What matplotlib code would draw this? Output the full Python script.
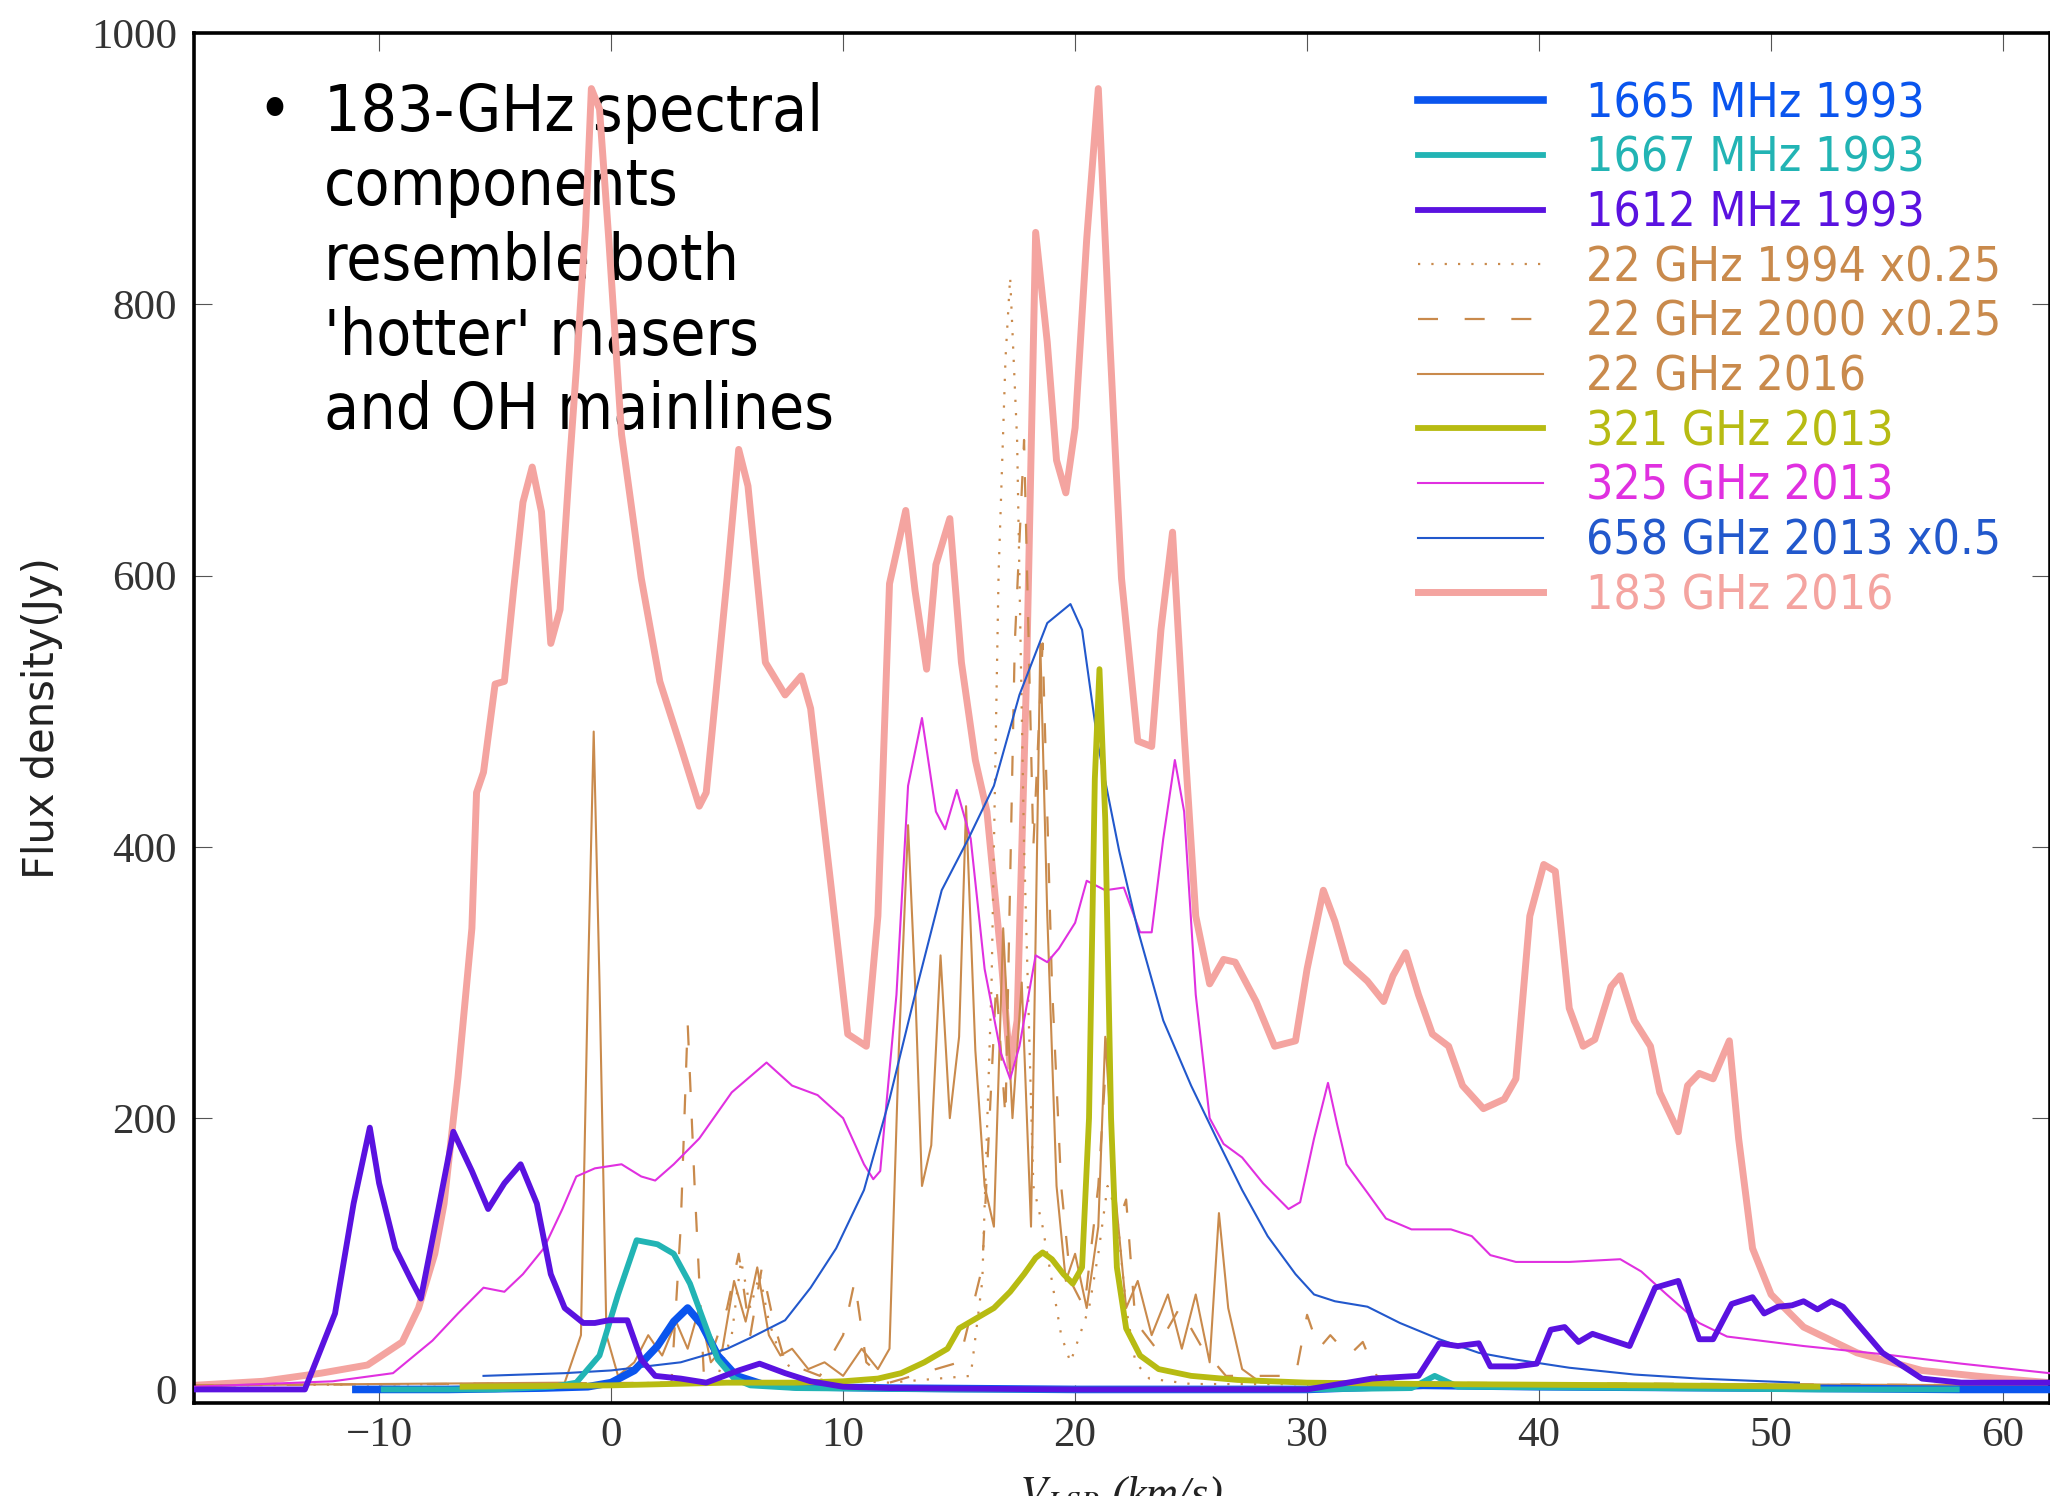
import matplotlib
matplotlib.use("Agg")
import matplotlib.pyplot as plt
from matplotlib.font_manager import FontProperties

plt.rcParams['mathtext.fontset'] = 'stix'

# ---------------------------------------------------------------- spectra
# velocity (km/s) and flux density (Jy) for each spectrum

v_1665 = [-11, -7, -3, -1, 0, 1, 2, 2.7, 3.3, 3.9, 4.6, 5.4, 6.5, 8, 12, 20, 30, 35, 40, 50, 58, 62]
f_1665 = [0, 0, 1, 2, 5, 14, 32, 50, 60, 48, 25, 10, 4, 2, 1, 0, 0, 3, 2, 1, 0, 0]

v_1667 = [-9.8, -5, -2.5, -1.5, -0.5, 0.3, 1.1, 2.0, 2.7, 3.4, 4.0, 4.6, 5.3, 6.0, 8, 15, 30,
          34.5, 35.5, 36.5, 45, 52, 58]
f_1667 = [0, 0, 2, 5, 25, 70, 110, 107, 100, 78, 50, 22, 8, 3, 1, 0, 0,
          1, 10, 2, 1, 0, 0]

v_1612 = [-18, -13.2, -11.9, -11.1, -10.4, -10.0, -9.3, -8.6, -8.2, -7.4, -6.8, -6.0, -5.3,
          -4.6, -3.9, -3.2, -2.6, -2.0, -1.2, -0.7, -0.1, 0.7, 1.3, 1.9, 3.0, 4.1, 5.5, 6.4,
          7.5, 8.6, 10, 12, 20, 30, 32.8, 34.8, 35.7, 36.5, 37.4, 37.9, 39.0, 39.9, 40.5,
          41.1, 41.7, 42.3, 43.0, 43.9, 45.0, 46.0, 46.9, 47.5, 48.3, 49.2, 49.7, 50.3,
          50.9, 51.4, 52.0, 52.6, 53.1, 54.8, 56.5, 58.2, 62]
f_1612 = [0, 0, 56, 137, 193, 152, 104, 80, 67, 137, 190, 161, 133,
          152, 166, 137, 85, 60, 49, 49, 51, 51, 22, 10, 8, 5, 14, 19,
          12, 6, 2, 1, 0, 0, 8, 10, 34, 32, 34, 17, 17, 19, 44,
          46, 35, 41, 37, 32, 75, 80, 37, 37, 63, 68, 56, 61,
          62, 65, 59, 65, 61, 27, 8, 5, 5]

v_22_1994 = [-18, 4.5, 5.2, 5.6, 6.0, 6.4, 6.8, 7.2, 8, 12, 15.5, 16.0, 16.4, 16.7, 17.0,
             17.2, 17.5, 17.8, 18.2, 18.6, 19.0, 19.4, 19.8, 20.2, 20.6, 21.0, 21.4, 21.8,
             22.2, 22.6, 23.2, 25, 62]
f_22_1994 = [3, 5, 40, 95, 60, 85, 50, 30, 8, 5, 10, 80, 300, 600, 760,
             820, 700, 400, 150, 120, 80, 40, 20, 40, 60, 100, 150, 130,
             60, 20, 8, 4, 3]

v_22_2000 = [-18, 2.6, 3.0, 3.3, 3.6, 4.0, 5.0, 5.5, 6.0, 6.5, 7.0, 7.5, 9, 10.0, 10.5, 11.0,
             12, 15, 16.0, 16.6, 17.0, 17.4, 17.8, 18.2, 18.6, 19.0, 19.4, 19.8, 20.4, 21.0,
             21.4, 21.8, 22.2, 22.6, 23.5, 24.5, 25.5, 26.5, 29.5, 30.0, 30.5, 31.0, 31.8,
             32.4, 33.0, 34, 62]
f_22_2000 = [3, 5, 120, 270, 150, 10, 60, 100, 40, 90, 50, 20, 10, 40, 80, 20,
             5, 20, 90, 300, 200, 550, 700, 400, 550, 300, 150, 80, 60, 150,
             260, 120, 140, 50, 30, 60, 30, 10, 10, 55, 30, 40, 25,
             35, 10, 5, 3]

v_22_2016 = [-18, -2, -1.3, -1.0, -0.75, -0.5, -0.2, 0.3, 1.0, 1.6, 2.2, 2.8, 3.3, 3.8, 4.3,
             4.8, 5.3, 5.8, 6.3, 6.8, 7.3, 7.8, 8.5, 9.2, 10.0, 10.8, 11.5, 12.0, 12.4, 12.8,
             13.1, 13.4, 13.8, 14.2, 14.6, 15.0, 15.3, 15.7, 16.1, 16.5, 16.9, 17.3, 17.7,
             18.1, 18.5, 18.8, 19.2, 19.6, 20.0, 20.5, 21.0, 21.3, 21.7, 22.2, 22.7, 23.3,
             24.0, 24.6, 25.2, 25.8, 26.2, 26.6, 27.2, 28, 62]
f_22_2016 = [3, 5, 40, 300, 485, 300, 40, 10, 20, 40, 25, 50, 30, 60, 20,
             30, 80, 50, 90, 40, 25, 30, 15, 20, 10, 30, 15, 30, 250, 416,
             300, 150, 180, 320, 200, 260, 430, 250, 150, 120, 340, 200, 300,
             120, 550, 350, 150, 80, 100, 60, 120, 260, 150, 60, 80, 40,
             70, 30, 70, 20, 130, 60, 15, 5, 3]

v_321 = [-6.4, 0, 5, 8, 10, 11.5, 12.5, 13.5, 14.5, 15.0, 15.7, 16.5, 17.2, 17.8, 18.3, 18.6,
         19.0, 19.5, 19.9, 20.3, 20.6, 20.85, 21.05, 21.3, 21.55, 21.8, 22.2, 22.8, 23.6, 25,
         27, 30, 35, 45, 52]
f_321 = [2, 3, 5, 5, 6, 8, 12, 20, 30, 45, 52, 60, 72, 85, 97, 101,
         96, 85, 78, 90, 200, 450, 531, 420, 200, 90, 45, 25, 15, 10,
         7, 5, 4, 3, 2]

v_325 = [-18, -12, -9.4, -7.7, -6.6, -5.5, -4.6, -3.8, -2.9, -2.1, -1.5, -0.7, 0.45, 1.3, 1.9,
         2.7, 3.8, 5.2, 6.7, 7.8, 8.9, 10.0, 10.9, 11.3, 11.6, 12.3, 12.8, 13.4, 14.0, 14.4,
         14.9, 15.5, 16.1, 16.8, 17.2, 17.6, 18.3, 18.8, 19.3, 20.0, 20.5, 21.3, 22.1, 22.8,
         23.3, 23.8, 24.3, 24.7, 25.2, 25.8, 26.4, 27.2, 28.1, 29.2, 29.7, 30.3, 30.9, 31.3,
         31.7, 32.6, 33.4, 34.5, 36.2, 37.1, 37.9, 39.0, 41.3, 43.5, 44.4, 45.5, 46.9, 48.1,
         51.4, 54.8, 58.2, 62]
f_325 = [2, 6, 12, 36, 56, 75, 72, 85, 104, 133, 157, 163, 166, 157, 154,
         166, 185, 219, 241, 224, 217, 200, 166, 155, 161, 291, 445, 495, 426, 413,
         442, 406, 310, 248, 229, 253, 320, 315, 325, 344, 375, 368, 370, 337,
         337, 406, 464, 426, 291, 200, 181, 171, 152, 133, 138, 185, 226, 195,
         166, 145, 126, 118, 118, 113, 99, 94, 94, 96, 87, 70, 49, 39,
         32, 26, 19, 12]

v_658 = [-5.5, -2, 0, 3, 5, 6, 7.5, 8.6, 9.7, 10.9, 12.0, 13.1, 14.25, 15.4, 16.5, 17.6, 18.8,
         19.8, 20.3, 21.0, 21.9, 22.7, 23.8, 25.0, 26.1, 27.2, 28.3, 29.5, 30.3, 31.2, 32.6,
         34.0, 35.7, 37.4, 39.0, 41.3, 44.1, 46.9, 49.7, 51.2]
f_658 = [10, 12, 14, 20, 30, 38, 51, 75, 104, 147, 214, 291, 368, 406, 445, 512, 565,
         579, 560, 474, 397, 339, 272, 224, 185, 147, 113, 85, 70, 65, 61,
         49, 37, 27, 22, 16, 11, 8, 6, 5]

v_183 = [-18, -15, -12.5, -10.5, -9, -8.3, -7.6, -7.2, -6.6, -6.0, -5.8, -5.5, -5.0, -4.6, -4.2,
         -3.8, -3.4, -3.0, -2.6, -2.2, -1.8, -1.5, -1.1, -0.85, -0.5, -0.1, 0.45, 1.3, 2.1,
         3.0, 3.8, 4.1, 5.0, 5.5, 5.9, 6.65, 7.5, 8.2, 8.6, 9.5, 10.2, 11.0, 11.5, 12.0, 12.7,
         13.1, 13.6, 14.0, 14.6, 15.1, 15.7, 16.2, 16.8, 17.2, 17.5, 17.9, 18.3, 18.8, 19.2,
         19.6, 20.0, 20.5, 21.0, 21.5, 22.0, 22.7, 23.3, 23.7, 24.2, 24.7, 25.2, 25.8, 26.4,
         26.9, 27.8, 28.6, 29.5, 30.0, 30.7, 31.2, 31.7, 32.6, 33.3, 33.7, 34.25, 34.8, 35.4,
         36.1, 36.7, 37.6, 38.5, 39.0, 39.6, 40.2, 40.7, 41.3, 41.9, 42.4, 43.1, 43.5, 44.1,
         44.8, 45.2, 46.0, 46.4, 46.9, 47.5, 48.2, 48.6, 49.2, 50.0, 51.4, 53.7, 56.5, 59.9, 62]
f_183 = [3, 6, 12, 18, 35, 60, 100, 137, 230, 340, 440, 455, 520, 522, 590,
         654, 680, 647, 550, 575, 680, 752, 858, 959, 944, 848, 704, 598, 522,
         474, 430, 440, 598, 693, 666, 536, 512, 526, 502, 368, 262, 253, 349, 594, 648,
         589, 531, 608, 642, 536, 464, 426, 320, 238, 272, 522, 853, 772, 685,
         661, 709, 848, 959, 772, 598, 478, 474, 560, 632, 483, 349, 299, 317,
         315, 286, 253, 257, 310, 368, 345, 315, 301, 286, 305, 322, 291, 262,
         253, 224, 207, 214, 229, 349, 387, 382, 281, 253, 258, 297, 305, 272,
         253, 219, 190, 224, 233, 229, 257, 185, 104, 70, 46, 27, 14, 8, 5]

x_ticks = [-10, 0, 10, 20, 30, 40, 50, 60]
y_ticks = [0, 200, 400, 600, 800, 1000]

bullet_lines = ["183-GHz spectral", "components", "resemble both",
                "'hotter' masers", "and OH mainlines"]

# ---------------------------------------------------------------- figure
W, H = 2050, 1496
fig = plt.figure(figsize=(W / 100, H / 100), dpi=100)
left, right, top, bottom = 193.5, 2049.5, 33, 1403
ax = fig.add_axes([left / W, 1 - bottom / H, (right - left) / W, (bottom - top) / H])

c_1665 = '#0a55ee'
c_1667 = '#22b4b4'
c_1612 = '#5a12e0'
c_22 = '#c98a4c'
c_321 = '#b7bb12'
c_325 = '#e030e0'
c_658 = '#2258cc'
c_183 = '#f4a4a0'

lines = []
lines.append(ax.plot(v_1665, f_1665, color=c_1665, lw=5.5, zorder=5,
                     label='1665 MHz 1993')[0])
lines.append(ax.plot(v_1667, f_1667, color=c_1667, lw=4.2, zorder=6,
                     label='1667 MHz 1993')[0])
lines.append(ax.plot(v_1612, f_1612, color=c_1612, lw=4.2, zorder=8,
                     label='1612 MHz 1993')[0])
lines.append(ax.plot(v_22_1994, f_22_1994, color=c_22, lw=1.6, ls=(0, (1, 5)), zorder=2,
                     label='22 GHz 1994 x0.25')[0])
lines.append(ax.plot(v_22_2000, f_22_2000, color=c_22, lw=1.6, ls=(0, (9, 12)), zorder=2,
                     label='22 GHz 2000 x0.25')[0])
lines.append(ax.plot(v_22_2016, f_22_2016, color=c_22, lw=1.5, zorder=2,
                     label='22 GHz 2016')[0])
lines.append(ax.plot(v_321, f_321, color=c_321, lw=4.2, zorder=7,
                     label='321 GHz 2013')[0])
lines.append(ax.plot(v_325, f_325, color=c_325, lw=1.5, zorder=3,
                     label='325 GHz 2013')[0])
lines.append(ax.plot(v_658, f_658, color=c_658, lw=1.5, zorder=4,
                     label='658 GHz 2013 x0.5')[0])
lines.append(ax.plot(v_183, f_183, color=c_183, lw=5, zorder=1,
                     label='183 GHz 2016')[0])

ax.set_xlim(-18, 62)
ax.set_ylim(-10, 1000)
ax.set_xticks(x_ticks)
ax.set_yticks(y_ticks)
ax.set_xticklabels([str(t).replace('-', '\u2212') for t in x_ticks])
ax.set_yticklabels([str(t) for t in y_ticks])

for s in ax.spines.values():
    s.set_linewidth(2.6)
    s.set_color('black')

tick_font = FontProperties(family='Liberation Serif', size=31)
ax.tick_params(which='both', direction='in', length=13, width=0.8, color='#555555',
               top=True, right=True, labelcolor='#333333')
ax.tick_params(axis='x', pad=10)
ax.tick_params(axis='y', pad=12)
for lab in ax.get_xticklabels() + ax.get_yticklabels():
    lab.set_fontproperties(tick_font)

ax.set_xlabel(r'$V_{LSR}$ (km/s)', fontfamily='Liberation Serif', fontstyle='italic',
              fontsize=32, color='#222222', va='top')
ax.xaxis.set_label_coords(0.5, -(1474 - bottom) / (bottom - top))
ax.set_ylabel('Flux density(Jy)', fontfamily='DejaVu Sans', fontsize=30, color='#222222')
ax.yaxis.set_label_coords(-(left - 63) / (right - left), 0.5)

# legend in the upper right, labels coloured like their lines
leg_font = FontProperties(family='DejaVu Sans', stretch='condensed', size=34.5)
leg = ax.legend(handles=lines, loc='upper left',
                bbox_to_anchor=((1418 - left) / (right - left), 1 - (80 - top) / (bottom - top)),
                prop=leg_font, frameon=False, handlelength=2.61, handletextpad=0.9,
                labelspacing=0.16, borderpad=0, borderaxespad=0)
for txt, ln in zip(leg.get_texts(), leg.get_lines()):
    txt.set_color(ln.get_color())

# bullet note, drawn beneath the spectra
note_font = FontProperties(family='DejaVu Sans', stretch='condensed', size=46)
x_txt = (324 - left) / (right - left)
x_bul = (257 - left) / (right - left)
y0 = 131
step = 74.5
for i, line in enumerate(bullet_lines):
    yy = 1 - (y0 + i * step - top) / (bottom - top)
    ax.text(x_txt, yy, line, transform=ax.transAxes, fontproperties=note_font,
            va='baseline', ha='left', color='black', zorder=0.5)
ax.text(x_bul, 1 - (y0 - top) / (bottom - top), '\u2022', transform=ax.transAxes,
        fontproperties=note_font, va='baseline', ha='left', color='black', zorder=0.5)

fig.savefig('out.png', dpi=100, facecolor='white')
